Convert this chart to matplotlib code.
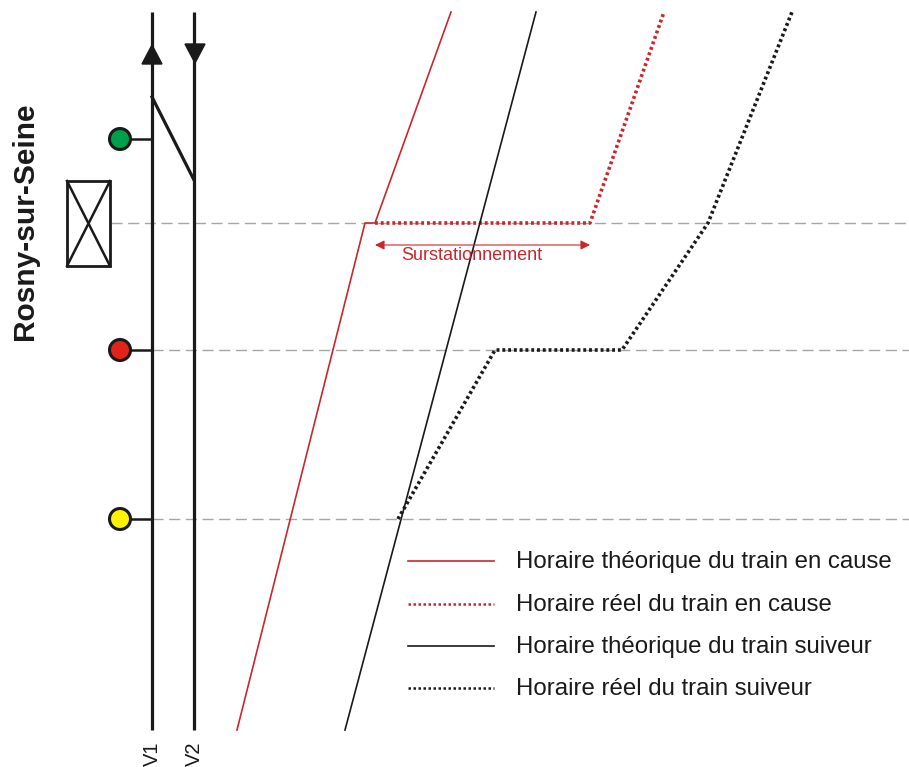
import matplotlib
import matplotlib.pyplot as plt
from matplotlib.patches import Rectangle, Circle, Polygon

matplotlib.use('Agg')
plt.rcParams['font.family'] = ['Liberation Sans', 'DejaVu Sans']

RED = '#c8282d'
DARK = '#1a1a1a'

theo_cause_x = [237, 365, 375, 451]
theo_cause_y = [730, 223, 223, 12]
reel_cause_x = [375, 590, 664]
reel_cause_y = [223, 223, 12]
theo_suiveur_x = [345, 536]
theo_suiveur_y = [730, 12]
reel_suiveur_x = [398, 495, 622, 708, 792]
reel_suiveur_y = [519, 350, 350, 223, 12]

voies = ['V1', 'V2']
voies_x = [152, 194]
signaux_y = [139, 350, 519]
signaux_col = ['#00a04a', '#e2231a', '#fff200']
repere_y = [223, 350, 519]
repere_x0 = [111, 152, 152]
legende = ['Horaire théorique du train en cause', 'Horaire réel du train en cause',
           'Horaire théorique du train suiveur', 'Horaire réel du train suiveur']
legende_y = [561, 604, 646, 688]

fig = plt.figure(figsize=(9.09, 7.67), dpi=100)
ax = fig.add_axes([0, 0, 1, 1])
ax.set_xlim(0, 909)
ax.set_ylim(767, 0)
ax.axis('off')

for y, x0 in zip(repere_y, repere_x0):
    ax.plot([x0, 909], [y, y], color='#a6a6a6', lw=1.0, ls=(0, (8, 4)), zorder=1)

# voies
for x in voies_x:
    ax.plot([x, x], [12, 730], color=DARK, lw=2.3, solid_capstyle='butt', zorder=3)
ax.plot([152, 194], [97, 180], color=DARK, lw=2.3, zorder=3)
ax.add_patch(Polygon([[152, 45], [142, 64], [162, 64]], color=DARK, zorder=4))
ax.add_patch(Polygon([[185, 44], [205, 44], [195, 63]], color=DARK, zorder=4))
for x, v in zip(voies_x, voies):
    ax.text(x, 741, v, rotation=90, ha='center', va='top', fontsize=14.5, color=DARK)

# signaux
for y, c in zip(signaux_y, signaux_col):
    ax.plot([120, 152], [y, y], color=DARK, lw=1.8, zorder=3)
    ax.add_patch(Circle((120, y), 10.5, fc=c, ec=DARK, lw=2.2, zorder=4))

# gare
ax.add_patch(Rectangle((67, 181), 43, 85, fc='white', ec=DARK, lw=2.0, zorder=4))
ax.plot([67, 110], [181, 266], color=DARK, lw=1.8, zorder=5)
ax.plot([67, 110], [266, 181], color=DARK, lw=1.8, zorder=5)
ax.text(25, 221, 'Rosny-sur-Seine', rotation=90, ha='center', va='center',
        fontsize=21.5, fontweight='bold', color=DARK)

# horaires
dots = (0, (0.8, 0.8))
ax.plot(theo_cause_x, theo_cause_y, color=RED, lw=1.2, zorder=2)
ax.plot(reel_cause_x, reel_cause_y, color=RED, lw=2.6, ls=dots, zorder=2)
ax.plot(theo_suiveur_x, theo_suiveur_y, color=DARK, lw=1.2, zorder=2)
ax.plot(reel_suiveur_x, reel_suiveur_y, color=DARK, lw=2.6, ls=dots, zorder=2)

# surstationnement
ax.annotate('', xy=(375, 245), xytext=(590, 245),
            arrowprops=dict(arrowstyle='<|-|>', color=RED, lw=0.8, shrinkA=0, shrinkB=0,
                            mutation_scale=14))
ax.text(472, 256, 'Surstationnement', ha='center', va='center', fontsize=13, color=RED)

# legende
styles = [(RED, 1.2, '-', None), (RED, 1.8, (0, (1, 1)), None),
          (DARK, 1.2, '-', None), (DARK, 1.8, (0, (1, 1)), None)]
for y, lab, (c, lw, ls, _) in zip(legende_y, legende, styles):
    ax.plot([408, 494], [y, y], color=c, lw=lw, ls=ls)
    ax.text(516, y + 1, lab, ha='left', va='center', fontsize=17.3, color=DARK)

fig.savefig('out.png', dpi=100)
